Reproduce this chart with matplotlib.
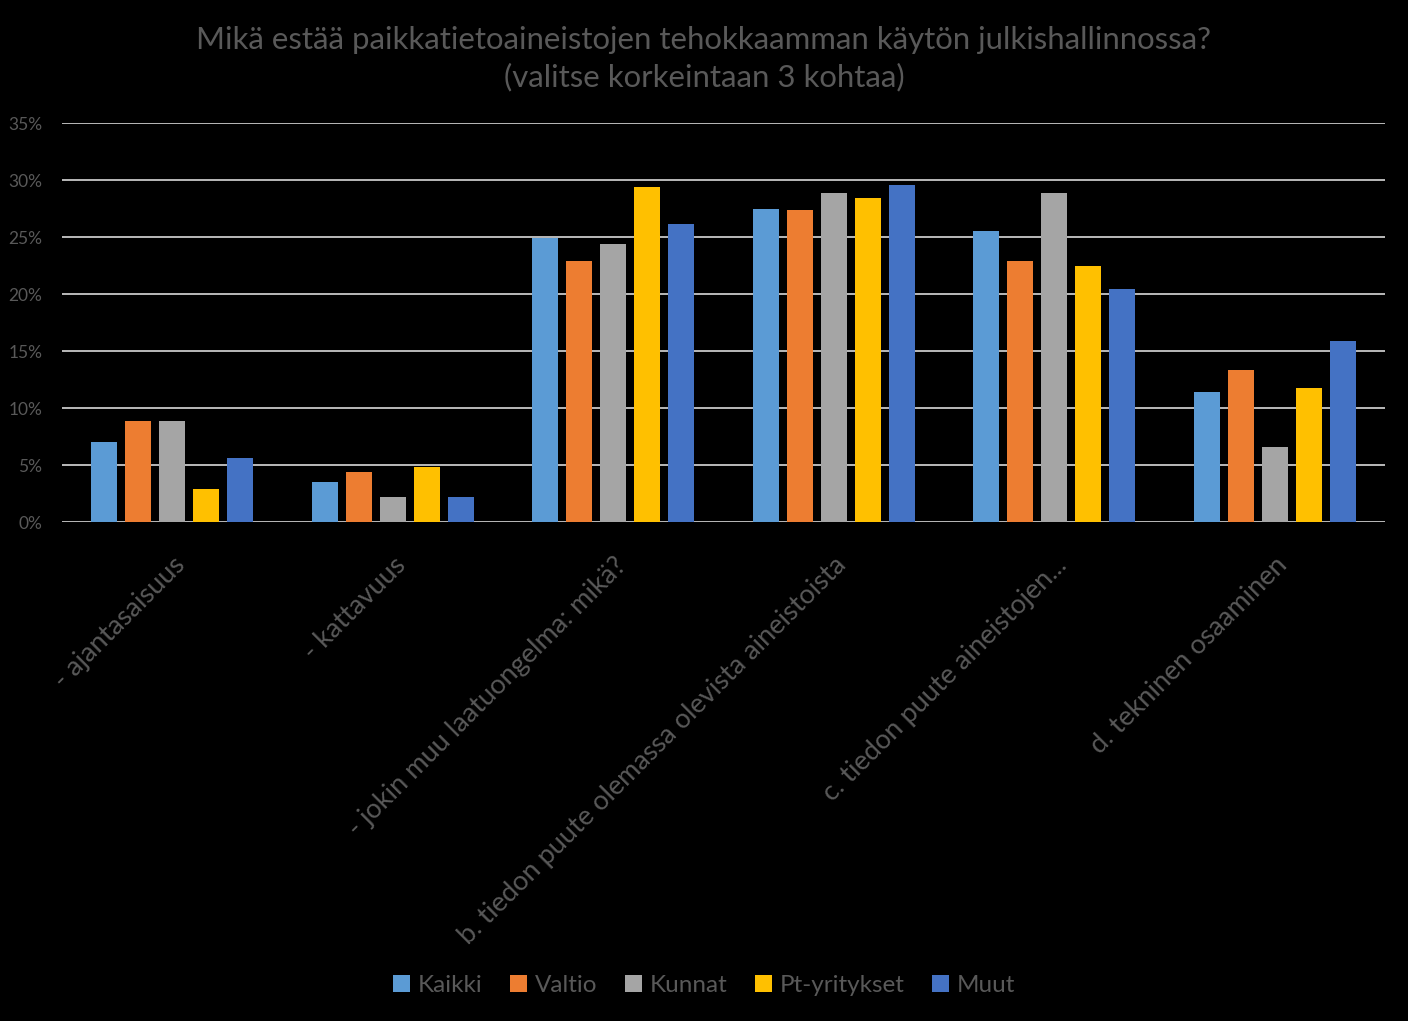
import matplotlib
matplotlib.use("Agg")
import matplotlib.pyplot as plt
import numpy as np
from matplotlib.ticker import MultipleLocator, FuncFormatter

categories = ["- ajantasaisuus", "- kattavuus", "- jokin muu laatuongelma: mikä?",
              "b. tiedon puute olemassa olevista aineistoista",
              "c. tiedon puute aineistojen...", "d. tekninen osaaminen"]
series_names = ["Kaikki", "Valtio", "Kunnat", "Pt-yritykset", "Muut"]
kaikki = [7.0, 3.5, 24.9, 27.5, 25.5, 11.4]
valtio = [8.9, 4.4, 22.9, 27.4, 22.9, 13.3]
kunnat = [8.9, 2.2, 24.4, 28.9, 28.9, 6.6]
pt_yritykset = [2.9, 4.8, 29.4, 28.4, 22.5, 11.8]
muut = [5.6, 2.2, 26.1, 29.6, 20.4, 15.9]
colors = ["#5B9BD5", "#ED7D31", "#A5A5A5", "#FFC000", "#4472C4"]

data = [kaikki, valtio, kunnat, pt_yritykset, muut]
font = ["Lato", "DejaVu Sans"]
txt = "#595959"

fig = plt.figure(figsize=(14.08, 10.21), dpi=100, facecolor="black")
ax = fig.add_axes([0.044, 0.4887, 0.9397, 0.3908], facecolor="black")

x = np.arange(len(categories))
step = 0.154
width = 0.118
for i, (vals, name, c) in enumerate(zip(data, series_names, colors)):
    ax.bar(x + (i - 2) * step, np.array(vals) / 100, width=width, color=c, label=name, zorder=3)

ax.set_xlim(-0.5, len(categories) - 0.5)
ax.set_ylim(0, 0.35)
ax.yaxis.set_major_locator(MultipleLocator(0.05))
ax.yaxis.set_major_formatter(FuncFormatter(lambda v, p: f"{round(v*100)}%"))
ax.grid(axis="y", color="#D9D9D9", linewidth=1.2, zorder=0)
for s in ax.spines.values():
    s.set_visible(False)
ax.tick_params(axis="both", length=0, colors=txt)
ax.tick_params(axis="y", labelsize=12.5, pad=14)
for lbl in ax.get_yticklabels():
    lbl.set_family(font)
ax.set_xticks(x)
ax.set_xticklabels(categories, rotation=45, ha="right", rotation_mode="anchor",
                   fontsize=19.5, color=txt, family=font)
ax.tick_params(axis="x", pad=22)

fig.text(0.5, 0.975, "Mikä estää paikkatietoaineistojen tehokkaamman käytön julkishallinnossa?\n(valitse korkeintaan 3 kohtaa)",
         ha="center", va="top", fontsize=22.4, color=txt, family=font, linespacing=1.4)

leg = fig.legend(loc="center", bbox_to_anchor=(0.5, 0.035), ncol=5, frameon=False,
                 handlelength=0.7, handleheight=0.7, handletextpad=0.3,
                 columnspacing=1.15, prop={"family": font, "size": 17.5})
for t in leg.get_texts():
    t.set_color(txt)

fig.savefig("out.png", dpi=100, facecolor="black")
